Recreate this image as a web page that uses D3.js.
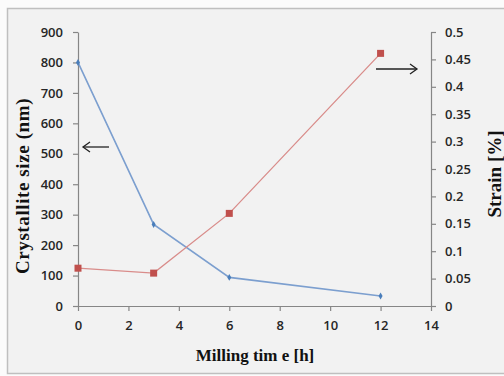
<!DOCTYPE html>
<html><head><meta charset="utf-8">
<script src="https://cdn.jsdelivr.net/npm/d3@7"></script>
<style>body{margin:0;background:#fbfbfb}svg{display:block}</style>
</head><body>
<script>
const milling = [0, 3, 6, 12];
const crystallite = [800, 268, 94, 33];
const strain = [0.069, 0.060, 0.169, 0.461];
const xTicks = [0, 2, 4, 6, 8, 10, 12, 14];
const yLeftTicks = [0, 100, 200, 300, 400, 500, 600, 700, 800, 900];
const yRightTicks = [0, 0.05, 0.1, 0.15, 0.2, 0.25, 0.3, 0.35, 0.4, 0.45, 0.5];

const W = 504, H = 376;
const svg = d3.select("body").append("svg").attr("width", W).attr("height", H);
svg.append("rect").attr("x", 7.5).attr("y", 8.5).attr("width", 510).attr("height", 365)
  .attr("fill", "#f2f2f2").attr("stroke", "#bfbfbf").attr("stroke-width", 1.5);

const x = d3.scaleLinear().domain([0, 14]).range([78, 431]);
const yL = d3.scaleLinear().domain([0, 900]).range([306, 32]);
const yR = d3.scaleLinear().domain([0, 0.5]).range([306, 32]);

const tickFont = "'Open Sans', 'Liberation Sans', sans-serif";
function styleAxis(g) {
  g.selectAll("path.domain").attr("stroke", "#868686").attr("stroke-width", 1.2);
  g.selectAll(".tick line").attr("stroke", "#868686").attr("stroke-width", 1.2);
  g.selectAll(".tick text").attr("fill", "#262626").style("font-family", tickFont)
    .style("font-size", "13px").style("font-weight", "600");
}
svg.append("g").attr("transform", "translate(0,306)")
  .call(d3.axisBottom(x).tickValues(xTicks).tickSize(5).tickSizeOuter(0).tickPadding(10).tickFormat(d3.format("d")))
  .call(styleAxis);
svg.append("g").attr("transform", "translate(78,0)")
  .call(d3.axisLeft(yL).tickValues(yLeftTicks).tickSize(5).tickSizeOuter(0).tickPadding(10).tickFormat(d3.format("d")))
  .call(styleAxis);
svg.append("g").attr("transform", "translate(431,0)")
  .call(d3.axisRight(yR).tickValues(yRightTicks).tickSize(5).tickSizeOuter(0).tickPadding(9).tickFormat(d => d === 0 ? "0" : String(d)))
  .call(styleAxis);

// series
const ptsB = milling.map((m, i) => [m, crystallite[i]]);
const ptsR = milling.map((m, i) => [m, strain[i]]);
svg.append("path").datum(ptsB).attr("fill", "none").attr("stroke", "#7c9fcf").attr("stroke-width", 1.6)
  .attr("d", d3.line().x(d => x(d[0])).y(d => yL(d[1])));
svg.append("path").datum(ptsR).attr("fill", "none").attr("stroke", "#d98c8a").attr("stroke-width", 1.3)
  .attr("d", d3.line().x(d => x(d[0])).y(d => yR(d[1])));
svg.selectAll(".mb").data(ptsB).enter().append("path")
  .attr("d", d3.symbol(d3.symbolDiamond, 14))
  .attr("transform", d => `translate(${x(d[0])},${yL(d[1])})`).attr("fill", "#4a7ebb");
svg.selectAll(".mr").data(ptsR).enter().append("rect")
  .attr("x", d => x(d[0]) - 3.5).attr("y", d => yR(d[1]) - 3.5).attr("width", 7).attr("height", 7)
  .attr("fill", "#c0504d");

// arrows
function arrow(x1, y1, x2, y2) {
  svg.append("line").attr("x1", x1).attr("y1", y1).attr("x2", x2).attr("y2", y2)
    .attr("stroke", "#222").attr("stroke-width", 1.3);
  const dir = Math.sign(x2 - x1);
  svg.append("path").attr("d", `M${x2 - dir * 7},${y2 - 5}L${x2},${y2}L${x2 - dir * 7},${y2 + 5}`)
    .attr("fill", "none").attr("stroke", "#222").attr("stroke-width", 1.3);
}
arrow(109, 147, 83, 147);
arrow(376, 69, 417, 69);

// titles
const titleFont = "'Liberation Serif', 'DejaVu Serif', serif";
svg.append("text").attr("x", 255).attr("y", 361).attr("text-anchor", "middle")
  .style("font-family", titleFont).style("font-weight", "bold").style("font-size", "17px").attr("fill", "#111")
  .text("Milling tim e [h]");
svg.append("text").attr("transform", "translate(29,186) rotate(-90)").attr("text-anchor", "middle")
  .style("font-family", titleFont).style("font-weight", "bold").style("font-size", "19px").attr("fill", "#111")
  .style("letter-spacing", "0.6px")
  .text("Crystallite size (nm)");
svg.append("text").attr("transform", "translate(501,174) rotate(-90)").attr("text-anchor", "middle")
  .style("font-family", titleFont).style("font-weight", "bold").style("font-size", "19px").attr("fill", "#111")
  .text("Strain [%]");
</script>
</body></html>
